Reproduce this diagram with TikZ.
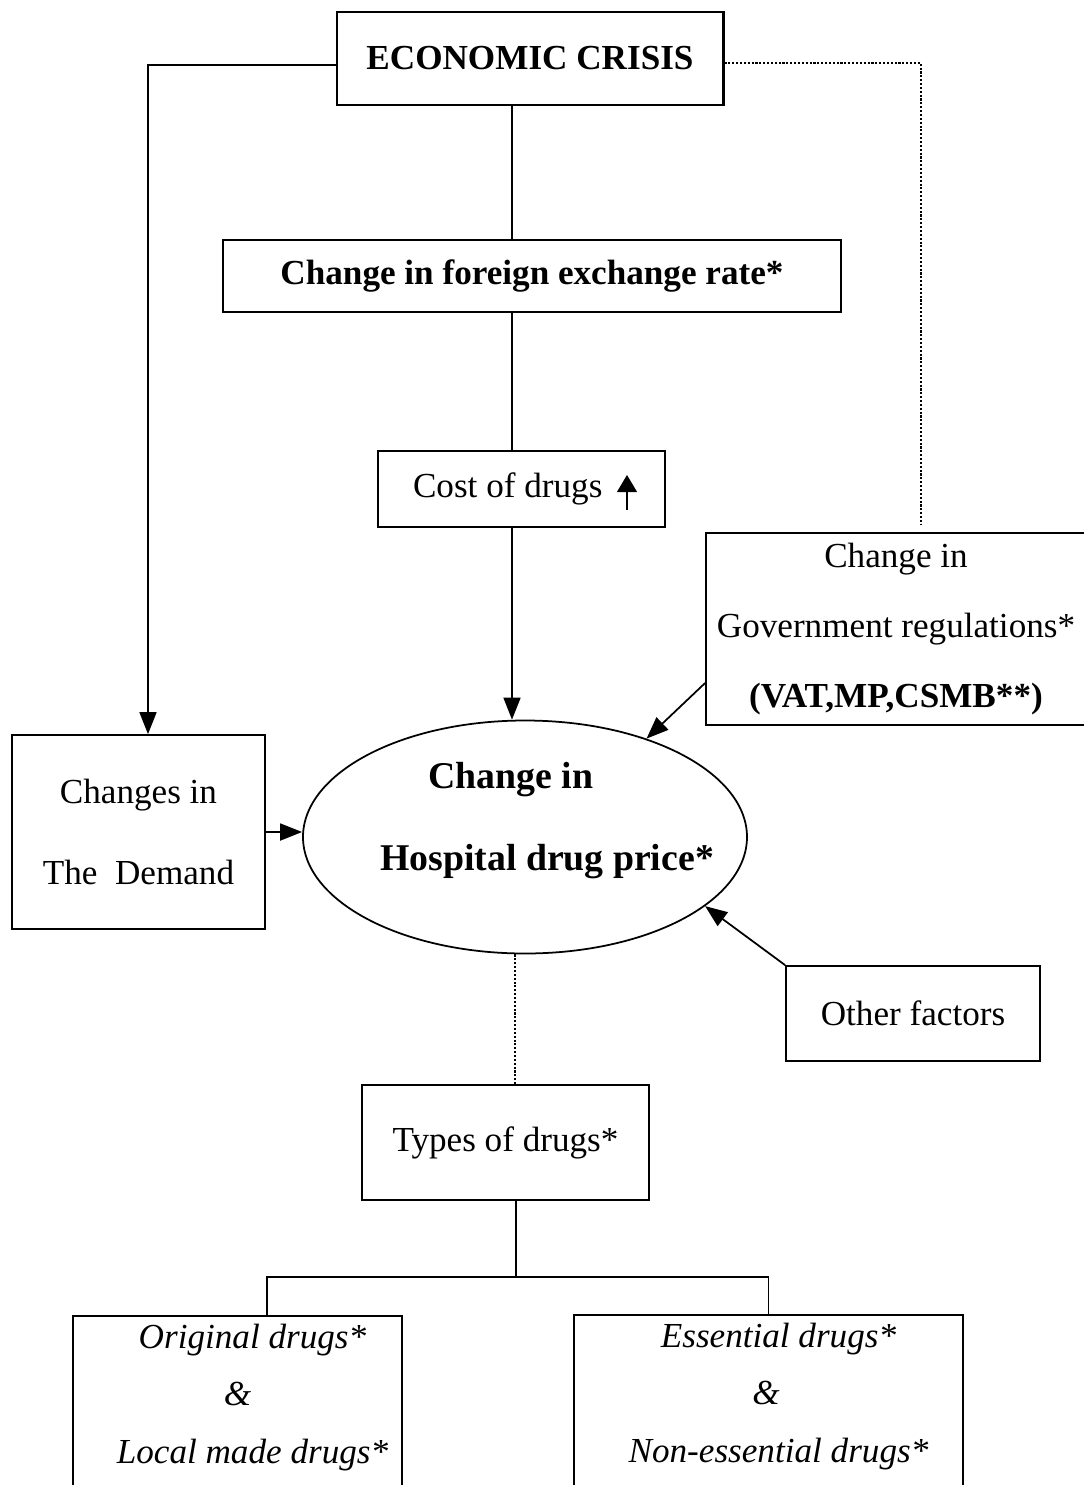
\documentclass[tikz,border=0pt]{standalone}
\usepackage{fontspec}
\setmainfont{Liberation Serif}
\usetikzlibrary{arrows.meta,shapes.geometric}

\begin{document}
\begin{tikzpicture}[every node/.style={font=\fontsize{20}{24}\selectfont},
    >={Triangle[length=0.44cm,width=0.34cm]},
    box/.style={draw, line width=1pt, align=center, inner sep=0pt},
    link/.style={line width=1pt},
    dots/.style={line width=1.2pt, densely dotted}]
    \useasboundingbox (0,0) rectangle (21.68,-29.7);
    % spine and fork points
        \coordinate (spine) at (10.24,0);
        \coordinate (fork) at (10.32,-25.54);
    % boxes
        \node[box, line width=1.7pt, minimum width=7.72cm, minimum height=1.86cm, font=\fontsize{20}{24}\selectfont\bfseries] (crisis) at (10.6,-1.17) {ECONOMIC CRISIS};
        \node[box, minimum width=12.36cm, minimum height=1.44cm, font=\fontsize{20}{24}\selectfont\bfseries] (rate) at (10.64,-5.52) {Change in foreign exchange rate*};
        \node[box, minimum width=5.74cm, minimum height=1.52cm] (cost) at (10.43,-9.78) {Cost of drugs\hspace{0.55cm}};
        \draw[->, line width=0.6pt, >={Triangle[length=0.34cm,width=0.4cm]}] ([shift={(2.11,-0.42)}]cost.center) -- ([shift={(2.11,0.28)}]cost.center);
        \node[box, minimum width=7.6cm, minimum height=3.84cm, font=\fontsize{20}{40}\selectfont] (gov) at (17.92,-12.58) {Change in\\Government regulations*\\\textbf{(VAT,MP,CSMB**)}};
        \node[box, minimum width=5.06cm, minimum height=3.88cm, font=\fontsize{20}{46}\selectfont] (demand) at (2.77,-16.64) {Changes in\\The\ \ Demand};
        \node[draw, ellipse, line width=1pt, minimum width=8.88cm, minimum height=4.66cm] (hosp) at (10.5,-16.74) {};
        \node[font=\fontsize{21.5}{24}\selectfont\bfseries] (hosptop) at ([shift={(-0.28,1.14)}]hosp.center) {Change in};
        \node[font=\fontsize{21.5}{24}\selectfont\bfseries] (hospbot) at ([shift={(0.44,-0.5)}]hosp.center) {Hospital drug price*};
        \node[box, minimum width=5.08cm, minimum height=1.9cm] (other) at (18.26,-20.27) {Other factors};
        \node[box, minimum width=5.74cm, minimum height=2.3cm] (types) at (10.11,-22.85) {Types of drugs*};
        \node[box, anchor=north, minimum width=6.58cm, minimum height=4cm] (orig) at (4.75,-26.3) {};
        \node[align=center, font=\fontsize{20}{32.5}\selectfont\itshape] (origtext) at ([shift={(0.3,-1.65)}]orig.north) {Original drugs*\\\hspace*{-0.6cm}\&\\Local made drugs*};
        \node[box, anchor=north, minimum width=7.78cm, minimum height=4cm] (ess) at (15.37,-26.28) {};
        \node[align=center, font=\fontsize{20}{32.5}\selectfont\itshape] (esstext) at ([shift={(0.2,-1.65)}]ess.north) {Essential drugs*\\\hspace*{-0.5cm}\&\\Non-essential drugs*};
    % connectors
        \draw[link] (crisis.south -| spine) -- (rate.north -| spine);
        \draw[link] (rate.south -| spine) -- (cost.north -| spine);
        \draw[link,->] (cost.south -| spine) -- (hosp.north -| spine);
        \draw[link,->] ([yshift=-0.13cm]crisis.west) -| ([xshift=0.19cm]demand.north);
        \draw[dots] ([yshift=-0.09cm]crisis.east) -| ([shift={(0.5,0.16)}]gov.north);
        \draw[link,->] ([yshift=-1.08cm]gov.west) -- (hosp.39);
        \draw[link,->] (demand.east) -- (demand.east -| hosp.west);
        \draw[link,->] (other.north west) -- (hosp.339);
        \draw[dots] ([xshift=0.19cm]types.north) -- ([xshift=0.19cm]types.north |- hosp.south);
        \draw[link] (types.south -| fork) -- (fork);
        \draw[link] ([xshift=0.59cm]orig.north) |- (fork) -| (ess.north);
\end{tikzpicture}
\end{document}
